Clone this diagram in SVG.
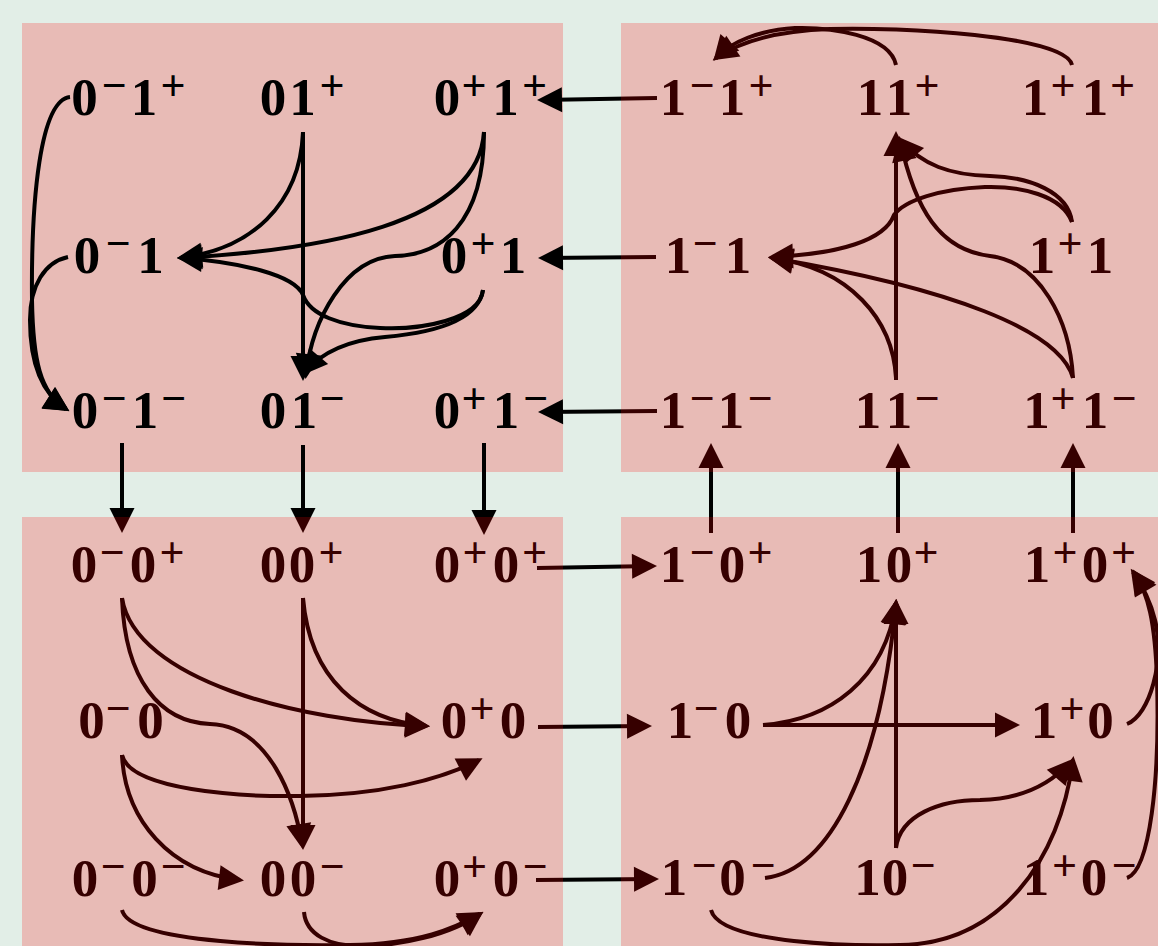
<svg xmlns="http://www.w3.org/2000/svg" width="1158" height="946" viewBox="0 0 1158 946">
<defs>
<style>
.bg{fill:#e2eee7}
.box{fill:#ff0000;fill-opacity:0.21}
text{font-family:"Liberation Serif","Times New Roman",serif;font-weight:bold;font-size:53px;text-anchor:middle;fill:#000}
.s{font-size:44px}
.e{fill:none;stroke:#000;stroke-width:4;marker-end:url(#ah)}
</style>
<marker id="ah" markerUnits="userSpaceOnUse" markerWidth="26" markerHeight="26" refX="21" refY="12.5" orient="auto" overflow="visible">
<path d="M0,0 L25,12.5 L0,25 Z" fill="#000"/>
</marker>
</defs>
<rect class="bg" x="0" y="0" width="1158" height="946"/>
<rect class="box" x="22" y="23" width="541" height="449"/>

<g id="n-0m1p"><text><tspan x="84.5" y="115">0</tspan><tspan class="s" x="114" y="100">−</tspan><tspan x="144" y="115">1</tspan><tspan class="s" x="173" y="100">+</tspan></text></g>
<g id="n-01p"><text><tspan x="273" y="115">0</tspan><tspan x="302.5" y="115">1</tspan><tspan class="s" x="332" y="100">+</tspan></text></g>
<g id="n-0p1p"><text><tspan x="447" y="115">0</tspan><tspan class="s" x="474" y="100">+</tspan><tspan x="505.5" y="115">1</tspan><tspan class="s" x="534.5" y="100">+</tspan></text></g>
<g id="n-0m1"><text><tspan x="87" y="273">0</tspan><tspan class="s" x="118" y="258">−</tspan><tspan x="150.5" y="273">1</tspan></text></g>
<g id="n-0p1"><text><tspan x="454" y="273">0</tspan><tspan class="s" x="483" y="258">+</tspan><tspan x="513" y="273">1</tspan></text></g>
<g id="n-0m1m"><text><tspan x="85" y="428">0</tspan><tspan class="s" x="114" y="413">−</tspan><tspan x="145" y="428">1</tspan><tspan class="s" x="173.5" y="413">−</tspan></text></g>
<g id="n-01m"><text><tspan x="273" y="428">0</tspan><tspan x="304" y="428">1</tspan><tspan class="s" x="332" y="413">−</tspan></text></g>
<g id="n-0p1m"><text><tspan x="447" y="428">0</tspan><tspan class="s" x="474" y="413">+</tspan><tspan x="506" y="428">1</tspan><tspan class="s" x="535.5" y="413">−</tspan></text></g>

<g id="n-1m1p"><text><tspan x="673" y="115">1</tspan><tspan class="s" x="702" y="100">−</tspan><tspan x="732" y="115">1</tspan><tspan class="s" x="761" y="100">+</tspan></text></g>
<g id="n-11p"><text><tspan x="870" y="115">1</tspan><tspan x="899" y="115">1</tspan><tspan class="s" x="927" y="100">+</tspan></text></g>
<g id="n-1p1p"><text><tspan x="1035" y="115">1</tspan><tspan class="s" x="1063" y="100">+</tspan><tspan x="1095" y="115">1</tspan><tspan class="s" x="1122.5" y="100">+</tspan></text></g>
<g id="n-1m1"><text><tspan x="678" y="273">1</tspan><tspan class="s" x="705" y="258">−</tspan><tspan x="738" y="273">1</tspan></text></g>
<g id="n-1p1"><text><tspan x="1042" y="273">1</tspan><tspan class="s" x="1070" y="258">+</tspan><tspan x="1100" y="273">1</tspan></text></g>
<g id="n-1m1m"><text><tspan x="673" y="428">1</tspan><tspan class="s" x="702" y="413">−</tspan><tspan x="731" y="428">1</tspan><tspan class="s" x="760" y="413">−</tspan></text></g>
<g id="n-11m"><text><tspan x="868" y="428">1</tspan><tspan x="899" y="428">1</tspan><tspan class="s" x="927" y="413">−</tspan></text></g>
<g id="n-1p1m"><text><tspan x="1036.5" y="428">1</tspan><tspan class="s" x="1063" y="413">+</tspan><tspan x="1095" y="428">1</tspan><tspan class="s" x="1124" y="413">−</tspan></text></g>

<g id="n-0m0p"><text><tspan x="84" y="582">0</tspan><tspan class="s" x="112" y="567">−</tspan><tspan x="143" y="582">0</tspan><tspan class="s" x="172" y="567">+</tspan></text></g>
<g id="n-00p"><text><tspan x="273" y="582">0</tspan><tspan x="302" y="582">0</tspan><tspan class="s" x="331" y="567">+</tspan></text></g>
<g id="n-0p0p"><text><tspan x="447" y="582">0</tspan><tspan class="s" x="475" y="567">+</tspan><tspan x="506" y="582">0</tspan><tspan class="s" x="534.5" y="567">+</tspan></text></g>
<g id="n-0m0"><text><tspan x="91.5" y="738">0</tspan><tspan class="s" x="118" y="723">−</tspan><tspan x="150.5" y="738">0</tspan></text></g>
<g id="n-0p0"><text><tspan x="454" y="738">0</tspan><tspan class="s" x="482" y="723">+</tspan><tspan x="513" y="738">0</tspan></text></g>
<g id="n-0m0m"><text><tspan x="85" y="896">0</tspan><tspan class="s" x="113" y="881">−</tspan><tspan x="144.5" y="896">0</tspan><tspan class="s" x="173" y="881">−</tspan></text></g>
<g id="n-00m"><text><tspan x="273" y="896">0</tspan><tspan x="303" y="896">0</tspan><tspan class="s" x="332" y="881">−</tspan></text></g>
<g id="n-0p0m"><text><tspan x="447" y="896">0</tspan><tspan class="s" x="474.5" y="881">+</tspan><tspan x="506" y="896">0</tspan><tspan class="s" x="535" y="881">−</tspan></text></g>

<g id="n-1m0p"><text><tspan x="673" y="582">1</tspan><tspan class="s" x="702" y="567">−</tspan><tspan x="732" y="582">0</tspan><tspan class="s" x="760" y="567">+</tspan></text></g>
<g id="n-10p"><text><tspan x="869" y="582">1</tspan><tspan x="899" y="582">0</tspan><tspan class="s" x="926" y="567">+</tspan></text></g>
<g id="n-1p0p"><text><tspan x="1037" y="582">1</tspan><tspan class="s" x="1065" y="567">+</tspan><tspan x="1095" y="582">0</tspan><tspan class="s" x="1123.5" y="567">+</tspan></text></g>
<g id="n-1m0"><text><tspan x="680" y="738">1</tspan><tspan class="s" x="706" y="723">−</tspan><tspan x="738" y="738">0</tspan></text></g>
<g id="n-1p0"><text><tspan x="1044" y="738">1</tspan><tspan class="s" x="1072" y="723">+</tspan><tspan x="1100.5" y="738">0</tspan></text></g>
<g id="n-1m0m"><text><tspan x="674" y="895">1</tspan><tspan class="s" x="704" y="880">−</tspan><tspan x="732.5" y="895">0</tspan><tspan class="s" x="763" y="880">−</tspan></text></g>
<g id="n-10m"><text><tspan x="867.5" y="895">1</tspan><tspan x="895" y="895">0</tspan><tspan class="s" x="923" y="880">−</tspan></text></g>
<g id="n-1p0m"><text><tspan x="1036" y="895">1</tspan><tspan class="s" x="1064.5" y="880">+</tspan><tspan x="1094" y="895">0</tspan><tspan class="s" x="1124" y="880">−</tspan></text></g>

<g id="connectors">
<path class="e" d="M657,98 L541,100"/>
<path class="e" d="M656,257 L542,258"/>
<path class="e" d="M657,411 L542,412"/>
<path class="e" d="M122,443 L122,529"/>
<path class="e" d="M303,445 L303,529"/>
<path class="e" d="M484,443 L484,531"/>
<path class="e" d="M711,533 L711,447"/>
<path class="e" d="M898,533 L898,447"/>
<path class="e" d="M1073,533 L1073,447"/>
<path class="e" d="M537,568 L653,566"/>
<path class="e" d="M538,727 L648,726"/>
<path class="e" d="M536,880 L655,879"/>
<path class="e" d="M70,97 C40,100 31,200 32,300 C33,360 40,393 66,409"/>
<path class="e" d="M68,257 C45,262 30,285 30,320 C30,360 40,392 66,409"/>
<path class="e" d="M303,132 L303,377"/>
<path class="e" d="M303,132 C300,205 250,250 181,257.5"/>
<path class="e" d="M484,132 C478,225 320,250 181,258"/>
<path class="e" d="M484,132 C484,225 440,255 395,256 C345,258 312,320 306,375"/>
<path class="e" d="M483,290 C480,320 420,330 380,328 C340,326 310,315 303,295 C295,275 240,262 181,258"/>
<path class="e" d="M483,290 C478,322 430,333 385,337 C350,340 322,352 305,372"/>
<path class="e" d="M896,65 C890,35 830,27 795,28 C760,30 730,42 716,58"/>
<path class="e" d="M1072,65 C1065,35 900,27 830,29 C770,31 735,45 716,58"/>
<path class="e" d="M896,380 L896,135"/>
<path class="e" d="M1072,222 C1068,192 1030,177 990,176 C950,175 922,165 901,140"/>
<path class="e" d="M1072,222 C1062,195 1020,186 985,187 C940,189 905,200 894,215 C885,240 840,254 772,257"/>
<path class="e" d="M896,378 C893,320 850,268 772,258"/>
<path class="e" d="M1073,378 C1060,330 950,288 772,258"/>
<path class="e" d="M1073,378 C1070,320 1040,262 990,256 C940,250 915,210 900,140"/>
<path class="e" d="M122,598 C135,680 300,722 426,726"/>
<path class="e" d="M122,598 C125,680 160,722 210,724 C270,726 295,800 302,845"/>
<path class="e" d="M303,598 L303,846"/>
<path class="e" d="M303,598 C310,680 360,720 426,726"/>
<path class="e" d="M122,755 C130,790 240,797 300,796 C380,795 440,780 479,760"/>
<path class="e" d="M122,755 C125,820 170,872 240,880"/>
<path class="e" d="M122,910 C130,945 300,946 350,945 C420,944 455,928 480,914"/>
<path class="e" d="M304,912 C306,935 330,946 360,946 C400,946 450,935 480,914"/>
<path class="e" d="M763,725 L1016,725"/>
<path class="e" d="M763,725 C830,720 885,680 896,603"/>
<path class="e" d="M896,848 L896,603"/>
<path class="e" d="M765,878 C830,870 880,770 896,603"/>
<path class="e" d="M896,848 C900,815 940,800 980,800 C1020,799 1050,785 1070,762"/>
<path class="e" d="M711,910 C720,945 860,946 900,945 C1000,944 1060,860 1073,760"/>
<path class="e" d="M1127,724 C1150,715 1165,660 1155,620 C1150,600 1142,585 1133,572"/>
<path class="e" d="M1127,878 C1150,870 1160,780 1157,680 C1155,620 1148,595 1135,573"/>
</g>

<rect class="box" x="621" y="23" width="537" height="449"/>
<rect class="box" x="22" y="517" width="541" height="429"/>
<rect class="box" x="621" y="517" width="537" height="429"/>
</svg>
